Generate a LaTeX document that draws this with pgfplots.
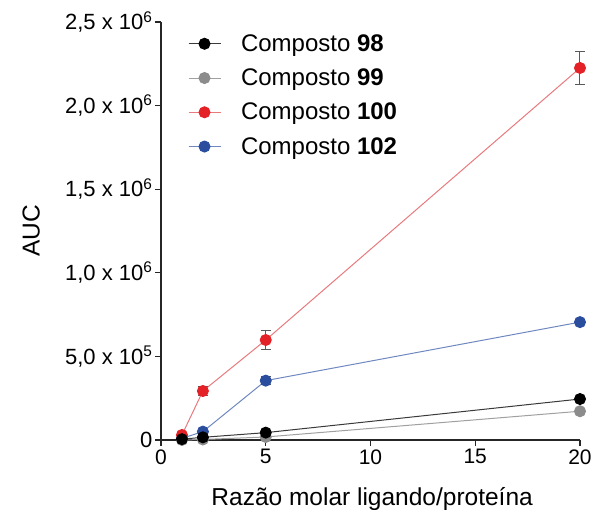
\documentclass[border=0pt]{standalone}
\usepackage{fontspec}
\setmainfont{Liberation Sans}
\usepackage{pgfplots}
\pgfplotsset{compat=1.18}
\definecolor{cblk}{HTML}{000000}
\definecolor{cgry}{HTML}{8C8C8C}
\definecolor{cred}{HTML}{E32127}
\definecolor{cblu}{HTML}{2A4D9E}
\definecolor{lblk}{HTML}{3A3A3A}
\definecolor{lgry}{HTML}{A0A0A0}
\definecolor{lred}{HTML}{E87A7E}
\definecolor{lblu}{HTML}{7088C0}
\begin{document}
\begin{tikzpicture}
\useasboundingbox (-161pt,-70pt) rectangle (431pt,440pt);
\begin{axis}[
  scale only axis,
  width=419pt, height=418pt,
  xmin=0, xmax=20, ymin=0, ymax=2500000,
  clip=false,
  axis lines=left,
  axis line style={-, line width=1.3pt, black!85},
  tick style={line width=1.3pt, black!85},
  tick align=outside,
  major tick length=6pt,
  xtick={0,5,10,15,20},
  ytick={0,500000,1000000,1500000,2000000,2500000},
  yticklabels={0,{5,0 x 10\textsuperscript{5}},{1,0 x 10\textsuperscript{6}},{1,5 x 10\textsuperscript{6}},{2,0 x 10\textsuperscript{6}},{2,5 x 10\textsuperscript{6}}},
  scaled y ticks=false,
  /pgf/number format/assume math mode=true,
  xticklabel style={font=\fontsize{21}{24}\selectfont},
  yticklabel style={font=\fontsize{22}{25}\selectfont, xshift=1pt},
  xlabel={Razão molar ligando/proteína},
  ylabel={AUC},
  every axis x label/.style={at={(axis description cs:0.504,0)}, anchor=base, yshift=-66pt, font=\fontsize{24.5}{29}\selectfont},
  every axis y label/.style={at={(axis description cs:-0.31,0.5)}, rotate=90, anchor=center, font=\fontsize{24.5}{29}\selectfont},
  legend style={draw=none, fill=none, at={(axis description cs:0.064,0.975)}, anchor=north west,
    font=\fontsize{24}{28}\selectfont, row sep=12pt, column sep=18pt, inner sep=0pt},
  legend cell align=left,
  legend image code/.code={\draw[mark repeat=2,mark phase=2] plot coordinates {(0pt,0pt) (16pt,0pt) (32pt,0pt)};},
  reverse legend,
  error bars/error bar style={line width=1pt, color=black!65},
  error bars/error mark options={rotate=90, mark size=5pt, line width=1pt, color=black!65},
]
\addplot[lblu, line width=1pt, mark=*, mark size=5.5pt, mark options={draw=cblu, fill=cblu},
  error bars/.cd, y dir=both, y explicit]
  coordinates {(1,10000) +- (0,0) (2,50000) +- (0,0) (5,355000) +- (0,23000) (20,705000) +- (0,0)};
\addlegendentry{Composto \textbf{102}}
\addplot[lred, line width=1pt, mark=*, mark size=5.5pt, mark options={draw=cred, fill=cred},
  error bars/.cd, y dir=both, y explicit]
  coordinates {(1,30000) +- (0,0) (2,293000) +- (0,25000) (5,598000) +- (0,57000) (20,2225000) +- (0,97000)};
\addlegendentry{Composto \textbf{100}}
\addplot[lgry, line width=1pt, mark=*, mark size=5.5pt, mark options={draw=cgry, fill=cgry}]
  coordinates {(1,0) (2,3000) (5,18000) (20,172000)};
\addlegendentry{Composto \textbf{99}}
\addplot[lblk, line width=1pt, mark=*, mark size=5.5pt, mark options={draw=cblk, fill=cblk}]
  coordinates {(1,5000) (2,16000) (5,44000) (20,245000)};
\addlegendentry{Composto \textbf{98}}
\end{axis}
\end{tikzpicture}
\end{document}
